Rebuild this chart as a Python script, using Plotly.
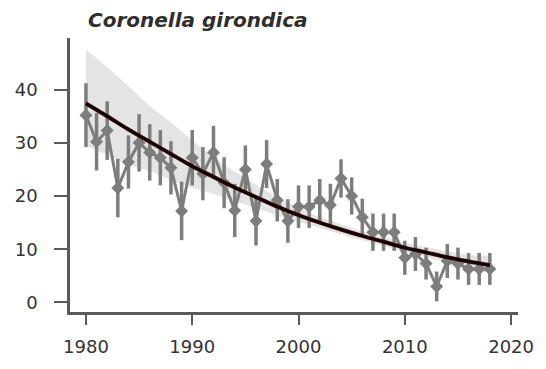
import plotly.graph_objects as go

# Yearly abundance index with uncertainty
years = list(range(1980, 2019))
index = [35.2, 30.2, 32.3, 21.5, 26.4, 30.0, 28.2, 27.2, 25.3, 17.2,
         27.2, 24.2, 28.2, 22.5, 17.3, 25.0, 15.3, 26.0, 19.2, 15.3,
         18.0, 18.0, 19.2, 18.3, 23.3, 20.0, 16.0, 13.2, 13.2, 13.2,
         8.4, 9.1, 7.3, 3.0, 7.8, 7.3, 6.3, 6.3, 6.3]
index_err = [6.0, 5.4, 5.5, 5.5, 5.0, 5.4, 5.3, 5.2, 5.0, 5.5,
             5.2, 5.0, 5.0, 4.8, 5.0, 4.5, 4.6, 4.5, 4.0, 4.1,
             4.0, 4.0, 4.0, 4.0, 3.6, 3.5, 3.5, 3.5, 3.5, 3.5,
             3.2, 3.2, 3.0, 2.8, 3.2, 3.0, 3.0, 3.0, 3.0]

# Fitted trend and its confidence band
trend_years = list(range(1980, 2019, 2))
trend = [37.4, 35.0, 32.5, 30.2, 27.9, 25.6, 23.6, 21.6, 19.8, 18.0,
         16.4, 15.0, 13.7, 12.5, 11.4, 10.3, 9.4, 8.5, 7.7, 7.0]
band_upper = [47.6, 44.2, 40.7, 36.9, 33.8, 30.5, 27.3, 24.6, 22.1, 19.8,
              17.8, 16.1, 14.7, 13.4, 12.3, 11.2, 10.4, 9.6, 8.9, 8.4]
band_lower = [29.4, 27.7, 25.9, 24.7, 23.0, 21.5, 20.4, 19.0, 17.7, 16.4,
              15.1, 14.0, 12.8, 11.7, 10.6, 9.5, 8.5, 7.5, 6.7, 5.8]

x_ticks = [1980, 1990, 2000, 2010, 2020]
y_ticks = [0, 10, 20, 30, 40]

grey = "#7d7d7d"
axis_col = "#5a5a5a"
label_font = dict(family="DejaVu Sans", size=18, color="#333333")

fig = go.Figure()

fig.add_trace(go.Scatter(
    x=trend_years + trend_years[::-1],
    y=band_upper + band_lower[::-1],
    fill="toself", fillcolor="#e4e4e4",
    line=dict(width=0, shape="spline"), mode="lines",
    hoverinfo="skip", showlegend=False,
))

fig.add_trace(go.Scatter(
    x=years, y=index, mode="lines+markers",
    line=dict(color=grey, width=3),
    marker=dict(symbol="diamond", size=10, color=grey),
    error_y=dict(type="data", array=index_err, color=grey,
                 thickness=3.5, width=0),
    showlegend=False,
))

fig.add_trace(go.Scatter(
    x=trend_years, y=trend, mode="lines",
    line=dict(color="#4a0c0c", width=4, shape="spline"),
    showlegend=False,
))
fig.add_trace(go.Scatter(
    x=trend_years, y=trend, mode="lines",
    line=dict(color="#0a0606", width=2.5, shape="spline"),
    showlegend=False,
))

fig.update_layout(
    width=546, height=369,
    margin=dict(l=70, r=19, t=38, b=44),
    plot_bgcolor="white", paper_bgcolor="white",
    annotations=[dict(
        text="<b><i>Coronella girondica</i></b>",
        xref="paper", yref="paper", x=0.035, y=1.0,
        xanchor="left", yanchor="bottom", yshift=4, showarrow=False,
        font=dict(family="DejaVu Sans", size=20, color="#2e2e2e"),
    )],
)

fig.update_xaxes(
    range=[1978.5, 2020.65], tickvals=x_ticks,
    showline=True, linecolor=axis_col, linewidth=2.5,
    ticks="outside", ticklen=10, tickwidth=2, tickcolor=axis_col,
    ticklabelstandoff=7,
    showgrid=False, zeroline=False, tickfont=label_font,
)
fig.update_yaxes(
    range=[-1.8, 49.7], tickvals=y_ticks,
    showline=True, linecolor=axis_col, linewidth=2.5,
    ticks="outside", ticklen=13, tickwidth=2, tickcolor=axis_col,
    ticklabelstandoff=13,
    showgrid=False, zeroline=False, tickfont=label_font,
)

fig.write_html("out.html")
